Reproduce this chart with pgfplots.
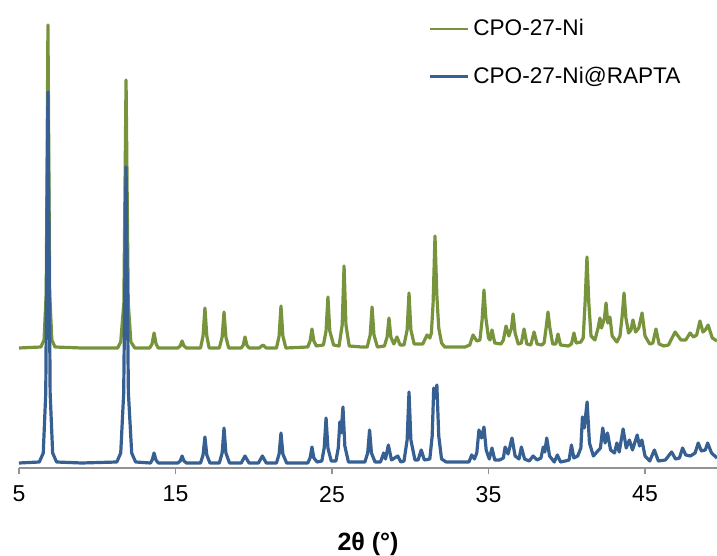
\documentclass[border=0pt]{standalone}
\usepackage{fontspec}
\setmainfont{Liberation Sans}
\usepackage{pgfplots}
\pgfplotsset{compat=1.18}
\definecolor{ni}{HTML}{77933C}
\definecolor{rapta}{HTML}{376092}

\begin{document}
\begin{tikzpicture}
% 1 px of the reference = 0.5pt
\useasboundingbox (-9.5pt,-44pt) rectangle (349pt,234pt);
\begin{axis}[
  scale only axis,
  width = 349pt, height = 234pt,
  xmin = 5, xmax = 49.6,
  ymin = 0, ymax = 468,
  axis x line* = bottom,
  axis y line = none,
  axis line style = {draw=gray!85, line width=0.8pt},
  xtick = {5,15,25,35,45},
  tick align = outside,
  major tick length = 3pt,
  tick style = {draw=gray!85, line width=0.8pt},
  /pgf/number format/assume math mode=true,
  ticklabel style = {font=\fontsize{11.5pt}{13pt}\selectfont},
  xticklabel style = {yshift=-2.5pt},
  xlabel = {\textbf{2θ (°)}},
  xlabel style = {font=\fontsize{12.5pt}{14pt}\selectfont, at={(axis description cs:0.5,0)}, anchor=center, yshift=-38pt},
  legend style = {draw=none, fill=none, at={(0.587,0.968)}, anchor=north west,
                  font=\fontsize{11.3pt}{13pt}\selectfont, row sep=10pt, inner sep=0pt},
  legend cell align = left,
  legend image code/.code={\draw[#1, line width=1.1pt] (0pt,0pt) -- (19pt,0pt);},
  clip = true
]
  % CPO-27-Ni (offset pattern)
  \addplot[ni, line width=1.6pt, line join=round] coordinates {
    (5.0,120) (6.4,121) (6.6,128) (6.74,175) (6.85,443) (6.96,175) (7.1,128) (7.3,121)
    (9.0,120) (11.3,120) (11.5,126) (11.7,165) (11.84,388) (11.98,165) (12.15,126) (12.4,120)
    (13.35,120) (13.5,124) (13.63,135) (13.76,124) (13.9,120)
    (15.15,120) (15.3,122) (15.42,127) (15.54,122) (15.7,120)
    (16.6,120) (16.76,132) (16.88,160) (17.0,132) (17.15,120)
    (17.8,120) (17.98,131) (18.1,156) (18.22,131) (18.4,120)
    (19.2,120) (19.33,123) (19.44,131) (19.56,123) (19.7,120)
    (20.35,120) (20.59,123) (20.8,120)
    (21.45,120) (21.62,132) (21.74,162) (21.86,132) (22.05,120)
    (23.45,121) (23.6,127) (23.72,139) (23.84,127) (24.0,122)
    (24.45,123) (24.62,137) (24.74,171) (24.86,137) (25.1,123)
    (25.45,122) (25.65,143) (25.77,202) (25.89,143) (26.1,122)
    (26.9,121)
    (27.25,121) (27.44,133) (27.56,161) (27.68,133) (27.9,121)
    (28.35,122) (28.52,131) (28.64,150) (28.76,131) (28.95,124)
    (29.15,131) (29.35,123)
    (29.6,123) (29.8,138) (29.92,175) (30.04,138) (30.25,124)
    (30.8,124) (31.07,133) (31.25,130)
    (31.35,135) (31.46,165) (31.58,232) (31.7,172) (31.82,140) (32.0,125) (32.2,121)
    (33.5,121)
    (33.8,123) (34.01,133) (34.25,127)
    (34.45,128) (34.59,148) (34.71,178) (34.83,150) (35.0,130)
    (35.1,128) (35.22,138) (35.4,125)
    (35.8,124)
    (35.95,128) (36.12,142) (36.3,132)
    (36.47,140) (36.57,154) (36.7,135) (36.9,124)
    (37.1,125) (37.27,139) (37.45,124)
    (37.7,123) (37.91,136) (38.1,124)
    (38.4,123)
    (38.55,125) (38.68,140) (38.8,156) (38.92,140) (39.1,124)
    (39.3,124) (39.44,134) (39.6,123)
    (40.1,122)
    (40.3,124) (40.46,135) (40.6,125)
    (40.9,126)
    (41.05,130) (41.17,165) (41.29,211) (41.41,165) (41.55,132) (41.8,128)
    (42.0,140) (42.12,150) (42.22,140)
    (42.41,150) (42.51,165) (42.62,145)
    (42.76,151) (42.9,132) (43.2,126)
    (43.4,132) (43.54,152) (43.66,175) (43.78,150) (43.95,135)
    (44.1,138) (44.23,148) (44.4,136) (44.6,140)
    (44.81,155) (45.0,132) (45.3,124)
    (45.5,125) (45.7,139) (45.9,124) (46.2,122)
    (46.5,123) (46.92,136) (47.3,128)
    (47.6,128) (47.88,135) (48.1,131)
    (48.3,133) (48.51,147) (48.7,136)
    (48.85,138) (49.03,143) (49.3,130) (49.6,127)
  };
  \addlegendentry{CPO-27-Ni}
  % CPO-27-Ni@RAPTA
  \addplot[rapta, line width=1.6pt, line join=round] coordinates {
    (5.0,5) (6.3,6) (6.55,15) (6.71,75) (6.85,376) (6.99,75) (7.15,15) (7.4,6)
    (9.0,5) (11.25,6) (11.5,15) (11.69,75) (11.84,301) (11.99,75) (12.2,15) (12.45,6)
    (13.4,5) (13.51,8) (13.63,15) (13.75,8) (13.9,5)
    (15.15,5) (15.3,7) (15.42,12) (15.54,7) (15.7,5)
    (16.6,5) (16.76,13) (16.88,31) (17.0,13) (17.2,5)
    (17.8,5) (17.98,15) (18.1,40) (18.22,15) (18.45,5)
    (19.2,5) (19.44,12) (19.7,5)
    (20.3,5) (20.55,12) (20.8,5)
    (21.45,5) (21.62,14) (21.74,35) (21.86,14) (22.1,5)
    (23.45,5) (23.6,10) (23.72,21) (23.84,10) (24.05,6)
    (24.35,7) (24.5,20) (24.62,50) (24.74,20) (24.95,7)
    (25.25,7) (25.4,20) (25.5,46) (25.58,35) (25.7,61) (25.82,22) (26.05,6)
    (27.1,6) (27.28,15) (27.4,38) (27.52,15) (27.75,6)
    (28.1,6) (28.3,15) (28.42,9) (28.6,23) (28.8,8)
    (29.2,12) (29.4,6)
    (29.6,7) (29.8,28) (29.92,76) (30.04,28) (30.3,8)
    (30.5,8) (30.7,18) (30.9,8)
    (31.25,9) (31.4,32) (31.5,80) (31.6,70) (31.7,83) (31.82,32) (32.0,9) (32.3,6)
    (33.5,6)
    (33.75,6) (33.93,13) (34.1,9)
    (34.25,15) (34.39,38) (34.55,30) (34.71,41) (34.85,18)
    (35.05,9) (35.22,20) (35.4,8)
    (35.7,8)
    (35.95,10) (36.06,21) (36.25,14)
    (36.5,30) (36.7,12)
    (36.95,9) (37.1,21) (37.3,9)
    (37.6,7) (37.85,12) (38.1,8)
    (38.35,10) (38.5,21) (38.6,16) (38.72,30) (38.9,12)
    (39.2,6) (39.4,13) (39.6,6)
    (39.9,7)
    (40.15,8) (40.3,23) (40.45,10) (40.7,12)
    (40.9,20) (41.0,51) (41.12,40) (41.3,66) (41.45,25) (41.7,12)
    (42.15,20) (42.3,40) (42.45,25) (42.6,35) (42.8,18)
    (43.05,15) (43.2,25) (43.35,16)
    (43.6,39) (43.8,20)
    (44.0,28) (44.2,18)
    (44.5,33) (44.65,22) (44.8,28) (45.0,12)
    (45.3,7) (45.6,18) (45.85,7)
    (46.3,8)
    (46.7,16) (46.95,9)
    (47.2,10) (47.4,20) (47.6,13)
    (47.9,12)
    (48.2,15) (48.4,25) (48.6,17)
    (48.85,18) (49.0,25) (49.25,15) (49.6,10)
  };
  \addlegendentry{CPO-27-Ni@RAPTA}
\end{axis}
\end{tikzpicture}
\end{document}
